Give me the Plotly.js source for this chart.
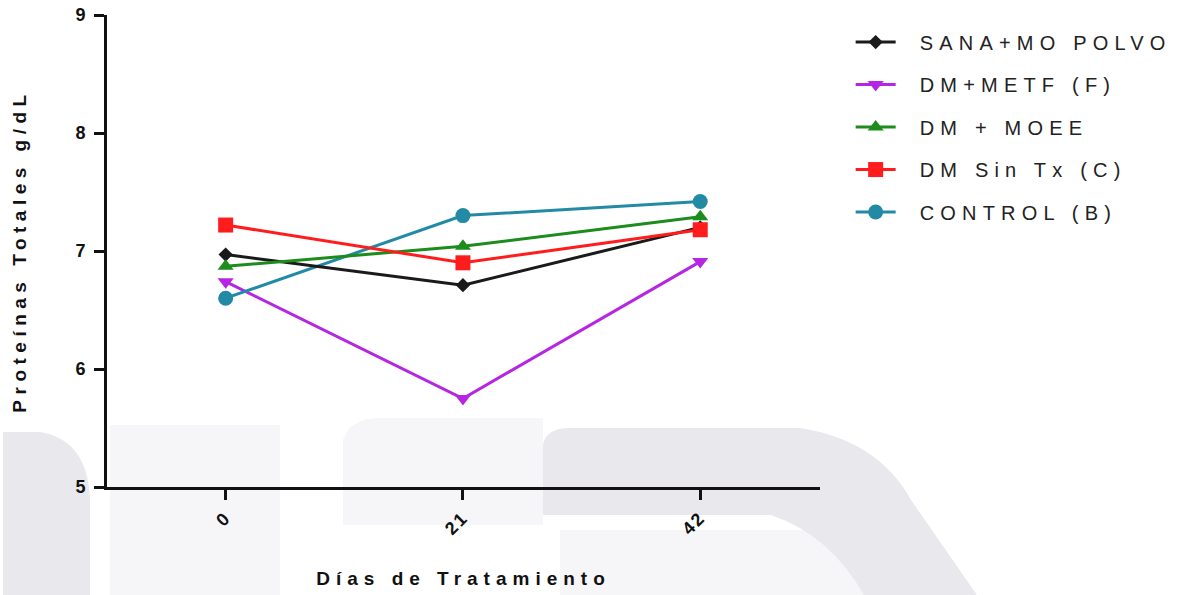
<!DOCTYPE html>
<html>
<head>
<meta charset="utf-8">
<script src="https://cdn.plot.ly/plotly-3.0.1.min.js"></script>
<style>
  html, body { margin: 0; padding: 0; background: #fff; }
  #chart { width: 1187px; height: 595px; }
  .xtitle { letter-spacing: 6px; }
  .ytitle { letter-spacing: 5.5px; }
  .legendtext { letter-spacing: 6.2px; transform: translateX(19px); }
  .legend .scrollbox { clip-path: none; }
  .xtick text { letter-spacing: 2px; }
</style>
</head>
<body>
<div id="chart"></div>
<script>
// Days of treatment and total protein (g/dL) per group
const days = [0, 21, 42];
const groupNames = ["SANA+MO POLVO", "DM+METF (F)", "DM + MOEE", "DM Sin Tx (C)", "CONTROL (B)"];
const sanaMoPolvo = [6.97, 6.71, 7.20];
const dmMetf = [6.74, 5.75, 6.91];
const dmMoee = [6.87, 7.04, 7.29];
const dmSinTx = [7.22, 6.90, 7.18];
const control = [6.60, 7.30, 7.42];
const yTicks = [5, 6, 7, 8, 9];

const FONT = "Liberation Sans, Arial, Helvetica, sans-serif";
const W = 1187, H = 595;
const M = { l: 107, r: 367, t: 15, b: 108 };
const PW = W - M.l - M.r, PH = H - M.t - M.b;

// pixel -> paper helpers for the faint background emblem
const px = x => ((x - M.l) / PW).toFixed(4);
const py = y => ((H - M.b - y) / PH).toFixed(4);
function path(cmds) {
  return cmds.map(c => {
    if (c[0] === 'Z') return 'Z';
    const pts = [];
    for (let i = 1; i < c.length; i += 2) pts.push(px(c[i]) + ',' + py(c[i + 1]));
    return c[0] + pts.join(' ');
  }).join(' ');
}
function bgShape(cmds, color) {
  return { type: 'path', xref: 'paper', yref: 'paper', layer: 'below',
           path: path(cmds), fillcolor: color, line: { width: 0 } };
}
const faint = '#f6f6f8', soft = '#e8e8ed';
const shapes = [
  bgShape([['M', 110, 595], ['L', 110, 425], ['L', 280, 425], ['L', 280, 595], ['Z']], faint),
  bgShape([['M', 343, 525], ['L', 343, 440], ['Q', 350, 418, 380, 418], ['L', 543, 418], ['L', 543, 525], ['Z']], faint),
  bgShape([['M', 560, 595], ['L', 560, 530], ['L', 860, 530], ['L', 890, 595], ['Z']], faint),
  bgShape([['M', 3, 595], ['L', 3, 432], ['L', 40, 432], ['Q', 88, 440, 90, 500], ['L', 90, 595], ['Z']], soft),
  bgShape([['M', 543, 515], ['L', 543, 445], ['Q', 546, 428, 570, 428], ['L', 800, 428],
           ['Q', 878, 440, 911, 500], ['L', 977, 595], ['L', 864, 595], ['Q', 830, 535, 771, 515], ['Z']], soft)
];

function series(name, y, color, symbol, size, rank) {
  return {
    type: 'scatter', mode: 'lines+markers', name: name, x: days, y: y,
    legendrank: rank, legendgroup: 'g' + rank,
    line: { color: color, width: 3 },
    marker: { color: color, symbol: symbol, size: size, line: { width: 0 } },
    cliponaxis: false
  };
}

const data = [
  series(groupNames[1], dmMetf, '#b526e3', 'triangle-down', 14, 2),
  series(groupNames[4], control, '#228aa5', 'circle', 15, 5),
  series(groupNames[0], sanaMoPolvo, '#1a1a1a', 'diamond', 11, 1),
  series(groupNames[2], dmMoee, '#1c8c1c', 'triangle-up', 14, 3),
  series(groupNames[3], dmSinTx, '#ff1c1c', 'square', 15, 4)
];

const axisCommon = {
  showgrid: false, zeroline: false, showline: true, linecolor: '#111', linewidth: 3,
  ticks: 'outside', tickcolor: '#111', tickwidth: 3, ticklen: 10,
  tickfont: { family: FONT, size: 18, color: '#111', weight: 'bold' }
};

const layout = {
  width: W, height: H, margin: M,
  paper_bgcolor: '#ffffff', plot_bgcolor: 'rgba(0,0,0,0)',
  showlegend: true,
  legend: {
    x: 1.043, xanchor: 'left', y: 0.984, yanchor: 'top',
    font: { family: FONT, size: 20, color: '#222' },
    tracegroupgap: 13.5, itemwidth: 40, bgcolor: 'rgba(0,0,0,0)'
  },
  xaxis: Object.assign({}, axisCommon, {
    range: [-10.5, 52.6], tickvals: days, ticktext: days.map(String), tickangle: -45,
    title: { text: 'Días de Tratamiento', standoff: 34,
             font: { family: FONT, size: 19, color: '#111', weight: 'bold' } }
  }),
  yaxis: Object.assign({}, axisCommon, {
    range: [5, 9], tickvals: yTicks, ticktext: yTicks.map(String), ticklabelstandoff: 5,
    title: { text: 'Proteínas Totales g/dL', standoff: 44,
             font: { family: FONT, size: 19, color: '#111', weight: 'bold' } }
  }),
  shapes: shapes
};

Plotly.newPlot('chart', data, layout, { staticPlot: true, displayModeBar: false });
</script>
</body>
</html>
